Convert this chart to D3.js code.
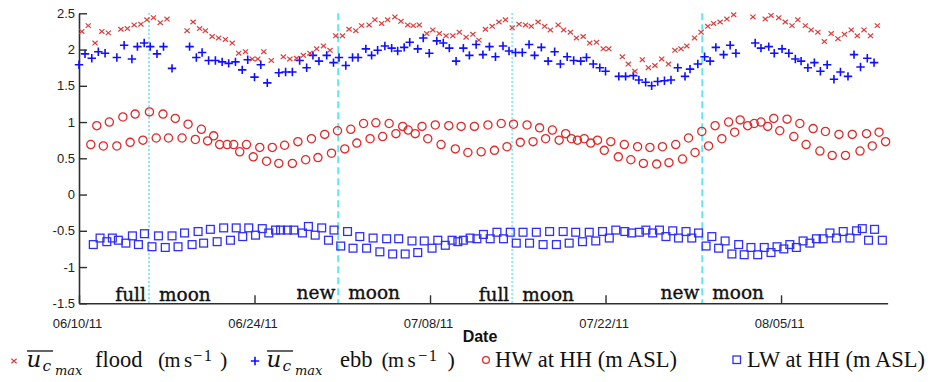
<!DOCTYPE html>
<html>
<head>
<meta charset="utf-8">
<script src="https://cdn.jsdelivr.net/npm/d3@7"></script>
<style>
  body { margin: 0; background: #fff; }
  svg { display: block; }
</style>
</head>
<body>
<svg id="chart" width="934" height="382"></svg>
<script>
// Record starts 10 June 2011; positions below are days after that start.
const startDate = Date.UTC(2011, 5, 10);
const xTickDates = ["2011-06-10", "2011-06-24", "2011-07-08", "2011-07-22", "2011-08-05"];
const yTickValues = [-1.5, -1, -0.5, 0, 0.5, 1, 1.5, 2, 2.5];

// Moon phases: day after start and phase word
const moonDays = [5.58, 20.68, 34.56, 49.72];
const moonWords = ["full", "new", "full", "new"];

// Depth-averaged peak flood speed (m/s): [day, value]
const floodSpeed = [[0.22,2.25],[0.74,2.33],[1.28,2.09],[1.82,2.25],[2.34,2.23],[3.34,2.28],[3.86,2.29],[4.40,2.34],[4.94,2.35],[5.42,2.41],[5.94,2.44],[6.48,2.37],[7.02,2.42],[8.62,2.26],[9.10,2.38],[9.62,2.29],[10.08,2.26],[10.62,2.18],[11.14,2.16],[11.68,2.14],[12.22,2.09],[12.74,1.95],[13.28,1.97],[13.82,1.87],[14.26,1.87],[14.74,1.97],[15.34,1.85],[16.30,1.90],[16.82,1.87],[17.36,1.88],[17.90,1.92],[18.42,1.95],[18.96,2.01],[19.50,2.05],[20.02,1.99],[20.48,2.19],[21.02,2.19],[21.54,2.28],[22.08,2.26],[22.54,2.33],[23.14,2.34],[23.60,2.41],[24.14,2.36],[24.62,2.41],[25.20,2.45],[25.68,2.39],[26.22,2.34],[26.66,2.33],[27.14,2.34],[27.74,2.22],[28.22,2.27],[28.74,2.22],[29.28,2.19],[29.82,2.19],[30.34,2.24],[30.88,2.17],[31.42,2.21],[31.90,2.13],[32.42,2.28],[32.96,2.32],[33.50,2.38],[34.02,2.41],[34.56,2.30],[35.10,2.35],[35.62,2.34],[36.08,2.32],[36.62,2.38],[37.14,2.32],[37.60,2.27],[38.22,2.34],[38.66,2.27],[39.20,2.24],[39.68,2.16],[40.22,2.18],[40.74,2.09],[41.28,2.10],[41.82,2.01],[42.26,2.01],[43.34,1.90],[43.82,1.80],[44.34,1.70],[44.94,1.86],[45.42,1.75],[45.94,1.78],[46.48,1.87],[47.02,1.80],[47.54,1.99],[48.02,2.01],[48.48,2.05],[49.10,2.16],[49.62,2.24],[50.16,2.32],[50.62,2.36],[51.14,2.38],[51.68,2.42],[52.22,2.48],[53.76,2.45],[54.74,2.42],[55.20,2.47],[55.82,2.44],[56.34,2.38],[56.88,2.33],[57.34,2.41],[57.94,2.33],[58.40,2.27],[58.94,2.24],[59.46,2.11],[60.00,2.22],[60.54,2.15],[61.06,2.21],[61.60,2.27],[62.08,2.19],[62.62,2.27],[63.14,2.19],[63.68,2.33]];

// Depth-averaged peak ebb speed (m/s): [day, value]
const ebbSpeed = [[0.00,1.79],[0.48,1.94],[1.02,1.88],[1.54,1.97],[2.08,1.95],[3.02,1.89],[3.60,2.06],[4.22,1.87],[4.66,2.04],[5.20,2.09],[5.68,2.04],[6.22,1.94],[6.74,2.04],[7.42,1.74],[8.82,2.04],[9.36,1.89],[9.82,1.96],[10.34,1.85],[10.88,1.85],[11.42,1.83],[11.94,1.81],[12.48,1.83],[13.02,1.72],[13.46,1.86],[14.00,1.62],[14.50,1.79],[15.02,1.54],[15.94,1.68],[16.48,1.69],[17.02,1.69],[17.60,1.85],[18.16,1.75],[18.66,1.92],[19.14,1.84],[19.76,1.92],[20.30,1.82],[20.74,1.89],[21.28,1.78],[21.82,1.89],[22.26,1.89],[22.88,2.01],[23.34,1.92],[23.82,1.99],[24.40,2.05],[24.94,2.02],[25.42,1.98],[25.94,2.03],[26.38,2.10],[27.02,2.01],[27.46,2.16],[27.94,1.95],[28.54,2.12],[29.06,2.09],[29.54,2.02],[30.08,1.84],[30.66,2.02],[31.14,1.92],[31.68,2.07],[32.22,1.93],[32.74,2.04],[33.22,1.90],[33.82,2.05],[34.30,1.98],[34.82,1.96],[35.36,1.96],[35.90,2.07],[36.34,1.92],[36.88,2.03],[37.42,1.84],[37.94,1.97],[38.40,1.80],[38.94,1.90],[39.46,1.85],[40.02,1.84],[40.48,1.89],[41.02,1.80],[41.54,1.75],[42.00,1.70],[43.06,1.63],[43.60,1.63],[44.22,1.64],[44.66,1.58],[45.20,1.55],[45.68,1.50],[46.16,1.56],[46.70,1.57],[47.22,1.58],[47.76,1.75],[48.34,1.63],[48.74,1.73],[49.36,1.80],[49.90,1.90],[50.34,1.84],[50.80,2.03],[51.42,1.93],[51.94,2.06],[52.40,1.95],[53.94,2.09],[54.40,2.02],[55.02,2.04],[55.46,1.95],[56.08,2.01],[56.62,1.95],[57.14,1.87],[57.60,1.84],[58.14,1.75],[58.66,1.82],[59.14,1.70],[59.68,1.79],[60.22,1.59],[60.74,1.69],[61.34,1.63],[61.82,1.93],[62.34,1.76],[62.88,1.88],[63.42,1.82]];

// High water level at HH (m ASL): [day, value]
const highWater = [[0.94,0.69],[1.42,0.95],[1.94,0.67],[2.42,1.00],[3.02,0.67],[3.50,1.07],[4.08,0.72],[4.48,1.11],[5.10,0.75],[5.62,1.14],[6.16,0.78],[6.70,1.11],[7.14,0.78],[7.68,1.05],[8.22,0.78],[8.70,0.97],[9.28,0.76],[9.76,0.90],[10.26,0.74],[10.74,0.81],[11.22,0.69],[11.82,0.69],[12.34,0.69],[12.82,0.59],[13.36,0.69],[13.90,0.52],[14.42,0.65],[14.96,0.46],[15.42,0.65],[15.94,0.43],[16.40,0.68],[17.02,0.43],[17.46,0.73],[18.08,0.48],[18.54,0.77],[19.06,0.51],[19.60,0.83],[20.14,0.57],[20.62,0.88],[21.20,0.63],[21.68,0.90],[22.16,0.71],[22.70,0.98],[23.22,0.77],[23.68,0.99],[24.22,0.80],[24.74,0.98],[25.28,0.84],[25.82,0.94],[26.26,0.89],[26.82,0.84],[27.36,0.94],[27.82,0.77],[28.42,0.96],[28.88,0.69],[29.50,0.95],[30.02,0.63],[30.48,0.94],[31.02,0.58],[31.54,0.94],[32.08,0.59],[32.62,0.96],[33.14,0.61],[33.68,0.98],[34.14,0.66],[34.66,0.97],[35.20,0.72],[35.74,0.96],[36.22,0.73],[36.74,0.92],[37.22,0.77],[37.76,0.89],[38.30,0.75],[38.82,0.84],[39.28,0.77],[39.76,0.75],[40.30,0.77],[40.82,0.71],[41.36,0.75],[41.90,0.61],[42.42,0.73],[43.02,0.52],[43.50,0.69],[44.02,0.48],[44.56,0.66],[45.02,0.43],[45.54,0.65],[46.08,0.42],[46.54,0.66],[47.06,0.44],[47.60,0.69],[48.14,0.49],[48.62,0.78],[49.14,0.58],[49.68,0.87],[50.22,0.67],[50.74,0.95],[51.28,0.77],[51.82,1.00],[52.30,0.86],[52.74,1.03],[53.34,0.95],[53.86,0.98],[54.40,1.00],[54.94,0.94],[55.42,1.05],[55.90,0.88],[56.48,1.04],[57.02,0.80],[57.50,0.98],[58.00,0.69],[58.56,0.91],[59.10,0.60],[59.54,0.87],[60.08,0.54],[60.62,0.83],[61.14,0.54],[61.68,0.83],[62.30,0.60],[62.82,0.84],[63.28,0.67],[63.82,0.86],[64.34,0.73]];

// Low water level at HH (m ASL): [day, value]
const lowWater = [[1.14,-0.69],[1.68,-0.60],[2.22,-0.65],[2.66,-0.60],[3.14,-0.63],[3.74,-0.67],[4.26,-0.57],[4.74,-0.69],[5.22,-0.54],[5.82,-0.72],[6.34,-0.57],[6.88,-0.73],[7.42,-0.57],[7.90,-0.72],[8.42,-0.53],[9.02,-0.69],[9.50,-0.51],[9.94,-0.67],[10.48,-0.48],[11.02,-0.65],[11.54,-0.46],[12.08,-0.63],[12.54,-0.46],[13.06,-0.58],[13.54,-0.46],[14.08,-0.56],[14.62,-0.47],[15.14,-0.53],[15.68,-0.49],[16.08,-0.49],[16.62,-0.49],[17.14,-0.49],[17.82,-0.53],[18.30,-0.44],[18.84,-0.56],[19.36,-0.46],[19.90,-0.63],[20.34,-0.49],[20.88,-0.71],[21.42,-0.51],[21.86,-0.74],[22.40,-0.58],[22.94,-0.74],[23.46,-0.60],[24.00,-0.79],[24.54,-0.61],[25.02,-0.82],[25.50,-0.61],[26.02,-0.82],[26.56,-0.64],[27.02,-0.80],[27.54,-0.64],[28.16,-0.74],[28.62,-0.63],[29.22,-0.70],[29.76,-0.63],[30.22,-0.65],[30.66,-0.63],[31.20,-0.60],[31.74,-0.61],[32.26,-0.55],[32.80,-0.61],[33.34,-0.52],[33.86,-0.61],[34.40,-0.52],[34.88,-0.67],[35.42,-0.52],[35.94,-0.67],[36.48,-0.52],[37.02,-0.69],[37.54,-0.51],[38.08,-0.69],[38.62,-0.51],[39.10,-0.67],[39.62,-0.52],[40.16,-0.65],[40.70,-0.52],[41.22,-0.64],[41.76,-0.51],[42.30,-0.60],[42.82,-0.49],[43.54,-0.51],[44.08,-0.53],[44.70,-0.52],[45.22,-0.49],[45.76,-0.53],[46.30,-0.49],[46.82,-0.58],[47.36,-0.50],[47.82,-0.60],[48.42,-0.51],[48.88,-0.60],[49.42,-0.53],[50.02,-0.71],[50.48,-0.58],[51.02,-0.74],[51.54,-0.64],[52.08,-0.82],[52.62,-0.69],[53.06,-0.83],[53.60,-0.73],[54.14,-0.83],[54.66,-0.73],[55.20,-0.80],[55.68,-0.72],[56.22,-0.75],[56.70,-0.69],[57.22,-0.73],[57.76,-0.64],[58.30,-0.67],[58.82,-0.61],[59.36,-0.61],[59.90,-0.53],[60.42,-0.60],[60.96,-0.51],[61.50,-0.60],[62.02,-0.50],[62.48,-0.47],[62.98,-0.63],[63.46,-0.48],[64.08,-0.63]];

const DAY = 86400000;
const toDate = d => new Date(startDate + d * DAY);

const svg = d3.select("#chart");
const x = d3.scaleUtc()
  .domain([toDate(0), toDate(64.5)])
  .range([79, 887.6]);
const y = d3.scaleLinear()
  .domain([-1.5, 2.5])
  .range([303.3, 13.3]);

const axisColor = "#2e2e2e";

// moon-phase reference lines with their labels
const moonG = svg.append("g");
moonDays.forEach((d, i) => {
  const px = x(toDate(d));
  moonG.append("line")
    .attr("x1", px).attr("x2", px)
    .attr("y1", y(2.5)).attr("y2", y(-1.5))
    .attr("stroke", "#5fe6f2")
    .attr("stroke-width", 2)
    .attr("stroke-dasharray", moonWords[i] === "full" ? "1.5,2.5" : "7,4");
  const base = moonWords[i] === "full" ? 300.5 : 298.5;
  [[moonWords[i], px - 3, "end"], ["moon", px + 10, "start"]].forEach(([t, tx, anchor]) => {
    moonG.append("text")
      .attr("x", tx).attr("y", base)
      .attr("text-anchor", anchor)
      .attr("font-family", "DejaVu Serif")
      .attr("font-size", 18.5)
      .attr("fill", "#111")
      .attr("stroke", "#111")
      .attr("stroke-width", 0.35)
      .text(t);
  });
});

// axes
const xAxis = d3.axisBottom(x)
  .tickValues(xTickDates.map(s => new Date(s + "T00:00:00Z")))
  .tickFormat(d3.utcFormat("%m/%d/%y"))
  .tickSize(-8)
  .tickSizeOuter(0)
  .tickPadding(15);
const gx = svg.append("g")
  .attr("transform", `translate(0,${y(-1.5)})`)
  .call(xAxis);
gx.selectAll("text")
  .attr("dx", -2)
  .attr("font-family", "Liberation Sans, Arial, sans-serif")
  .attr("font-size", 13)
  .attr("fill", "#222");

const yAxis = d3.axisLeft(y)
  .tickValues(yTickValues)
  .tickFormat(d => String(d))
  .tickSize(-8)
  .tickSizeOuter(0)
  .tickPadding(4);
const gy = svg.append("g")
  .attr("transform", `translate(${x(toDate(0))},0)`)
  .call(yAxis);
gy.selectAll("text")
  .attr("font-family", "Liberation Sans, Arial, sans-serif")
  .attr("font-size", 13)
  .attr("fill", "#222");

[gx, gy].forEach(g => {
  g.select(".domain").attr("stroke", axisColor).attr("stroke-width", 1.6);
  g.selectAll(".tick line").attr("stroke", axisColor).attr("stroke-width", 1.4);
});

svg.append("text")
  .attr("x", 480).attr("y", 342)
  .attr("text-anchor", "middle")
  .attr("font-family", "Liberation Sans, Arial, sans-serif")
  .attr("font-weight", "bold")
  .attr("font-size", 16)
  .attr("fill", "#111")
  .text("Date");

// marker shapes
const crossPath = "M-2.6,-2.3L2.6,2.3M-2.6,2.3L2.6,-2.3";
const plusPath = "M-4.2,0H4.2M0,-4.2V4.2";
const floodColor = "#dd3b3b";
const ebbColor = "#1010ff";
const hwColor = "#e02a2a";
const lwColor = "#3030f5";
const pos = d => `translate(${x(toDate(d[0]))},${y(d[1])})`;

svg.append("g").selectAll("rect").data(lowWater).join("rect")
  .attr("transform", pos)
  .attr("x", -3.9).attr("y", -3.9).attr("width", 7.8).attr("height", 7.8)
  .attr("fill", "none").attr("stroke", lwColor).attr("stroke-width", 1.3);

svg.append("g").selectAll("circle").data(highWater).join("circle")
  .attr("transform", pos)
  .attr("r", 4.1)
  .attr("fill", "none").attr("stroke", hwColor).attr("stroke-width", 1.3);

svg.append("g").selectAll("path").data(ebbSpeed).join("path")
  .attr("transform", pos)
  .attr("d", plusPath)
  .attr("fill", "none").attr("stroke", ebbColor).attr("stroke-width", 1.6);

svg.append("g").selectAll("path").data(floodSpeed).join("path")
  .attr("transform", pos)
  .attr("d", crossPath)
  .attr("fill", "none").attr("stroke", floodColor).attr("stroke-width", 1.2);

// legend
const lg = svg.append("g");
const serif = "Liberation Serif, Times New Roman, serif";
const mathFont = "DejaVu Serif, serif";

function piece(tx, ty, t, size, family, italic, spacing) {
  lg.append("text").attr("x", tx).attr("y", ty)
    .attr("font-family", family)
    .attr("font-style", italic ? "italic" : "normal")
    .attr("font-size", size)
    .attr("letter-spacing", spacing || 0)
    .attr("fill", "#111")
    .text(t);
}
// overlined u with c_max subscripts
function speedSymbol(x0) {
  piece(x0, 367, "u", 23, mathFont, true);
  piece(x0 + 16, 370.5, "c", 15.5, mathFont, true);
  piece(x0 + 28.5, 375, "max", 13, mathFont, true);
  lg.append("line")
    .attr("x1", x0 + 0.5).attr("x2", x0 + 26.5)
    .attr("y1", 351).attr("y2", 351)
    .attr("stroke", "#111").attr("stroke-width", 1.3);
}
// "(m s^-1)" with each glyph placed
function unitText(x0, xs, xc) {
  piece(x0, 367, "(", 22, serif);
  piece(x0 + 6.5, 367, "m", 20.5, serif);
  piece(x0 + 26, 367, "s", 21, serif);
  piece(xs, 360.5, "\u22121", 16.5, serif, false, 1.5);
  piece(xc, 367, ")", 22, serif);
}

lg.append("path").attr("transform", "translate(14,361)").attr("d", crossPath)
  .attr("fill", "none").attr("stroke", floodColor).attr("stroke-width", 1.2);
speedSymbol(26.5);
piece(95, 367, "flood", 22.5, serif);
unitText(158, 193, 220);

lg.append("path").attr("transform", "translate(255,361)").attr("d", plusPath)
  .attr("fill", "none").attr("stroke", ebbColor).attr("stroke-width", 1.6);
speedSymbol(266.5);
piece(340, 367, "ebb", 22.5, serif);
unitText(381.5, 418, 447.5);

lg.append("circle").attr("cx", 486).attr("cy", 360).attr("r", 3.4)
  .attr("fill", "none").attr("stroke", hwColor).attr("stroke-width", 1.3);
piece(495, 367, "HW at HH (m ASL)", 22.5, serif);

lg.append("rect").attr("x", 733).attr("y", 356).attr("width", 7.5).attr("height", 7.5)
  .attr("fill", "none").attr("stroke", lwColor).attr("stroke-width", 1.3);
piece(747, 367, "LW at HH (m ASL)", 22.5, serif);
</script>
</body>
</html>
